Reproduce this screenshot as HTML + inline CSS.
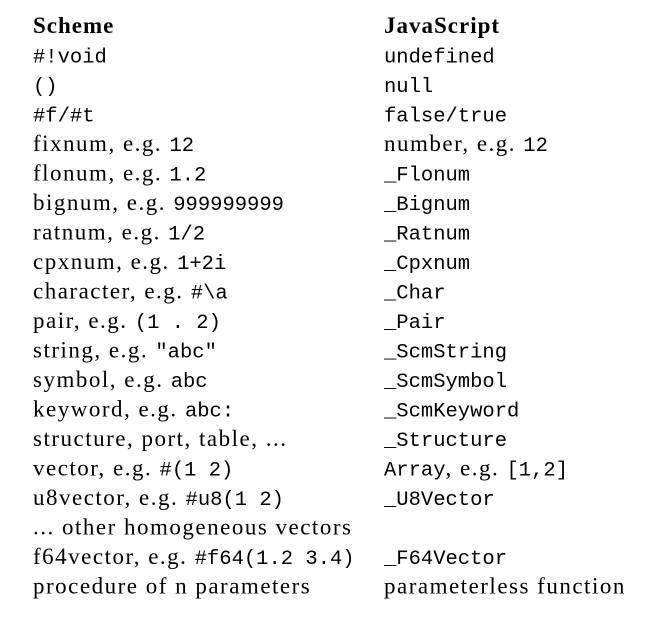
<!DOCTYPE html>
<html><head><meta charset="utf-8"><style>
html,body{margin:0;padding:0;background:#fff;width:648px;height:617px;overflow:hidden}
svg{display:block}
.s{font-family:"Liberation Serif",serif;font-size:23px;letter-spacing:1.5px;fill:#000}
.m{font-family:"Liberation Mono",monospace;font-size:20.5px;letter-spacing:0;fill:#000}
.b{font-weight:bold;letter-spacing:1px}
</style></head><body>
<svg width="648" height="617" xmlns="http://www.w3.org/2000/svg">
<g class="s">
<text x="33" y="33" class="s b">Scheme</text><text x="384" y="33" class="s b">JavaScript</text>
<text x="33" y="62.5" class="m">#!void</text><text x="384" y="62.5" class="m">undefined</text>
<text x="33" y="92" class="m">()</text><text x="384" y="92" class="m">null</text>
<text x="33" y="121.5" class="m">#f/#t</text><text x="384" y="121.5" class="m">false/true</text>
<text x="33" y="151">fixnum, e.g. <tspan class="m">12</tspan></text><text x="384" y="151">number, e.g. <tspan class="m">12</tspan></text>
<text x="33" y="180.5">flonum, e.g. <tspan class="m">1.2</tspan></text><text x="384" y="180.5" class="m">_Flonum</text>
<text x="33" y="210">bignum, e.g. <tspan class="m">999999999</tspan></text><text x="384" y="210" class="m">_Bignum</text>
<text x="33" y="239.5">ratnum, e.g. <tspan class="m">1/2</tspan></text><text x="384" y="239.5" class="m">_Ratnum</text>
<text x="33" y="269">cpxnum, e.g. <tspan class="m">1+2i</tspan></text><text x="384" y="269" class="m">_Cpxnum</text>
<text x="33" y="298.5">character, e.g. <tspan class="m">#\a</tspan></text><text x="384" y="298.5" class="m">_Char</text>
<text x="33" y="328">pair, e.g. <tspan class="m" xml:space="preserve">(1 . 2)</tspan></text><text x="384" y="328" class="m">_Pair</text>
<text x="33" y="357.5">string, e.g. <tspan class="m">"abc"</tspan></text><text x="384" y="357.5" class="m">_ScmString</text>
<text x="33" y="387">symbol, e.g. <tspan class="m">abc</tspan></text><text x="384" y="387" class="m">_ScmSymbol</text>
<text x="33" y="416.5">keyword, e.g. <tspan class="m">abc:</tspan></text><text x="384" y="416.5" class="m">_ScmKeyword</text>
<text x="33" y="446">structure, port, table, ...</text><text x="384" y="446" class="m">_Structure</text>
<text x="33" y="475.5">vector, e.g. <tspan class="m">#(1 2)</tspan></text><text x="384" y="475.5"><tspan class="m">Array</tspan>, e.g. <tspan class="m">[1,2]</tspan></text>
<text x="33" y="505">u8vector, e.g. <tspan class="m">#u8(1 2)</tspan></text><text x="384" y="505" class="m">_U8Vector</text>
<text x="33" y="534.5">... other homogeneous vectors</text>
<text x="33" y="564">f64vector, e.g. <tspan class="m">#f64(1.2 3.4)</tspan></text><text x="384" y="564" class="m">_F64Vector</text>
<text x="33" y="593.5">procedure of n parameters</text><text x="384" y="593.5">parameterless function</text>
</g>
</svg>
</body></html>
